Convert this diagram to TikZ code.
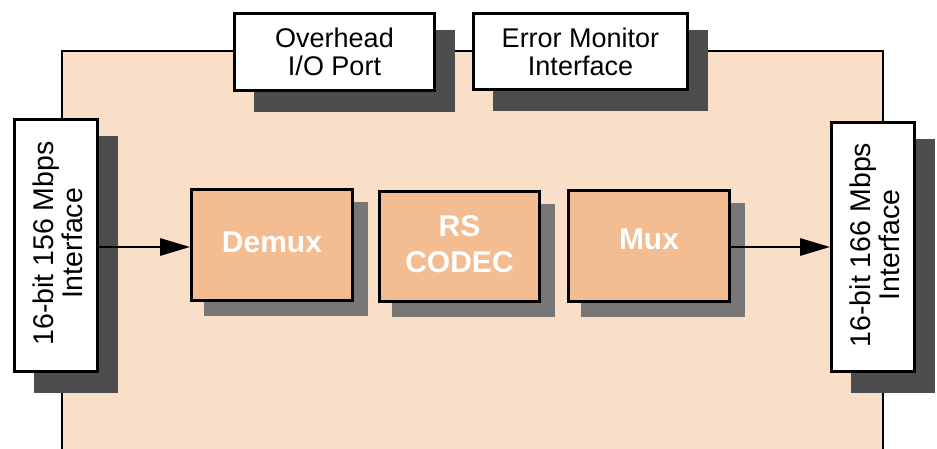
\documentclass[tikz,border=0pt]{standalone}
\usepackage{fontspec}
\setmainfont{Liberation Sans}
\usetikzlibrary{arrows.meta}
\definecolor{bgpeach}{HTML}{F9DEC8}
\definecolor{boxpeach}{HTML}{F3BC91}
\definecolor{shdark}{HTML}{4D4D4D}
\definecolor{shlight}{HTML}{777777}
\tikzset{
  outerbox/.style={draw=black, line width=2.8pt, fill=white, inner sep=0pt, align=center,
    font=\fontsize{27}{28}\selectfont},
  innerbox/.style={draw=black, line width=2.8pt, fill=boxpeach, inner sep=0pt},
  innertext/.style={align=center, text=white, inner sep=0pt, font=\fontsize{30}{36}\selectfont\bfseries},
  sidetext/.style={rotate=90, align=center, inner sep=0pt, font=\fontsize{28.5}{29}\selectfont},
  conn/.style={line width=2.8pt, -{Triangle[length=30pt,width=17pt]}}
}
\begin{document}
\begin{tikzpicture}[x=1pt,y=-1pt]
\useasboundingbox (0,0) rectangle (937,449);
\clip (0,0) rectangle (937,449);
% main background
\filldraw[fill=bgpeach, draw=black, line width=2.5pt] (62,470) -- (62,51) -- (883,51) -- (883,470);
% place invisible node frames first to draw shadows behind the boxes
\path
  node[outerbox, minimum width=200pt, minimum height=77pt, opacity=0] (ov) at (334.5,52) {}
  node[outerbox, minimum width=214pt, minimum height=76pt, opacity=0] (em) at (580.5,51.5) {}
  node[outerbox, minimum width=83pt, minimum height=252pt, opacity=0] (li) at (56,245.5) {}
  node[outerbox, minimum width=83pt, minimum height=249pt, opacity=0] (ri) at (873,247) {}
  node[innerbox, minimum width=161pt, minimum height=111pt, opacity=0] (dm) at (272,245) {}
  node[innerbox, minimum width=160pt, minimum height=110pt, opacity=0] (rs) at (459.5,246.5) {}
  node[innerbox, minimum width=161pt, minimum height=111pt, opacity=0] (mx) at (649,246) {};
% shadows
\foreach \n in {ov,em,li,ri}
  \fill[shdark] ([shift={(21,18)}]\n.north west) rectangle ([shift={(19,20)}]\n.south east);
\foreach \n in {dm,rs,mx}
  \fill[shlight] ([shift={(14,14)}]\n.north west) rectangle ([shift={(14,14)}]\n.south east);
% boxes
\node[outerbox, minimum width=200pt, minimum height=77pt] (ovb) at (334.5,52) {Overhead\\I/O Port};
\node[outerbox, minimum width=214pt, minimum height=76pt] (emb) at (580.5,51.5) {Error Monitor\\Interface};
\node[outerbox, minimum width=83pt, minimum height=252pt] (lib) at (56,245.5) {};
\node[outerbox, minimum width=83pt, minimum height=249pt] (rib) at (873,247) {};
\node[sidetext] (lit) at ([xshift=1.5pt,yshift=2pt]lib.center) {16-bit 156 Mbps\\Interface};
\node[sidetext] (rit) at ([xshift=1.5pt,yshift=2pt]rib.center) {16-bit 166 Mbps\\Interface};
\node[innerbox, minimum width=161pt, minimum height=111pt] (dmb) at (272,245) {};
\node[innerbox, minimum width=160pt, minimum height=110pt] (rsb) at (459.5,246.5) {};
\node[innerbox, minimum width=161pt, minimum height=111pt] (mxb) at (649,246) {};
\node[innertext] (dmt) at ([yshift=3pt]dmb.center) {Demux};
\node[innertext] (rst) at ([yshift=2pt]rsb.center) {RS\\CODEC};
\node[innertext] (mxt) at ([yshift=7pt]mxb.center) {Mux};
% connectors
\draw[conn] ([yshift=-1.5pt]lib.east) -- ([yshift=-1.5pt]lib.east -| dmb.west);
\draw[conn] ([yshift=-1pt]mxb.east) -- ([yshift=-1pt]mxb.east -| rib.west);
\end{tikzpicture}
\end{document}
